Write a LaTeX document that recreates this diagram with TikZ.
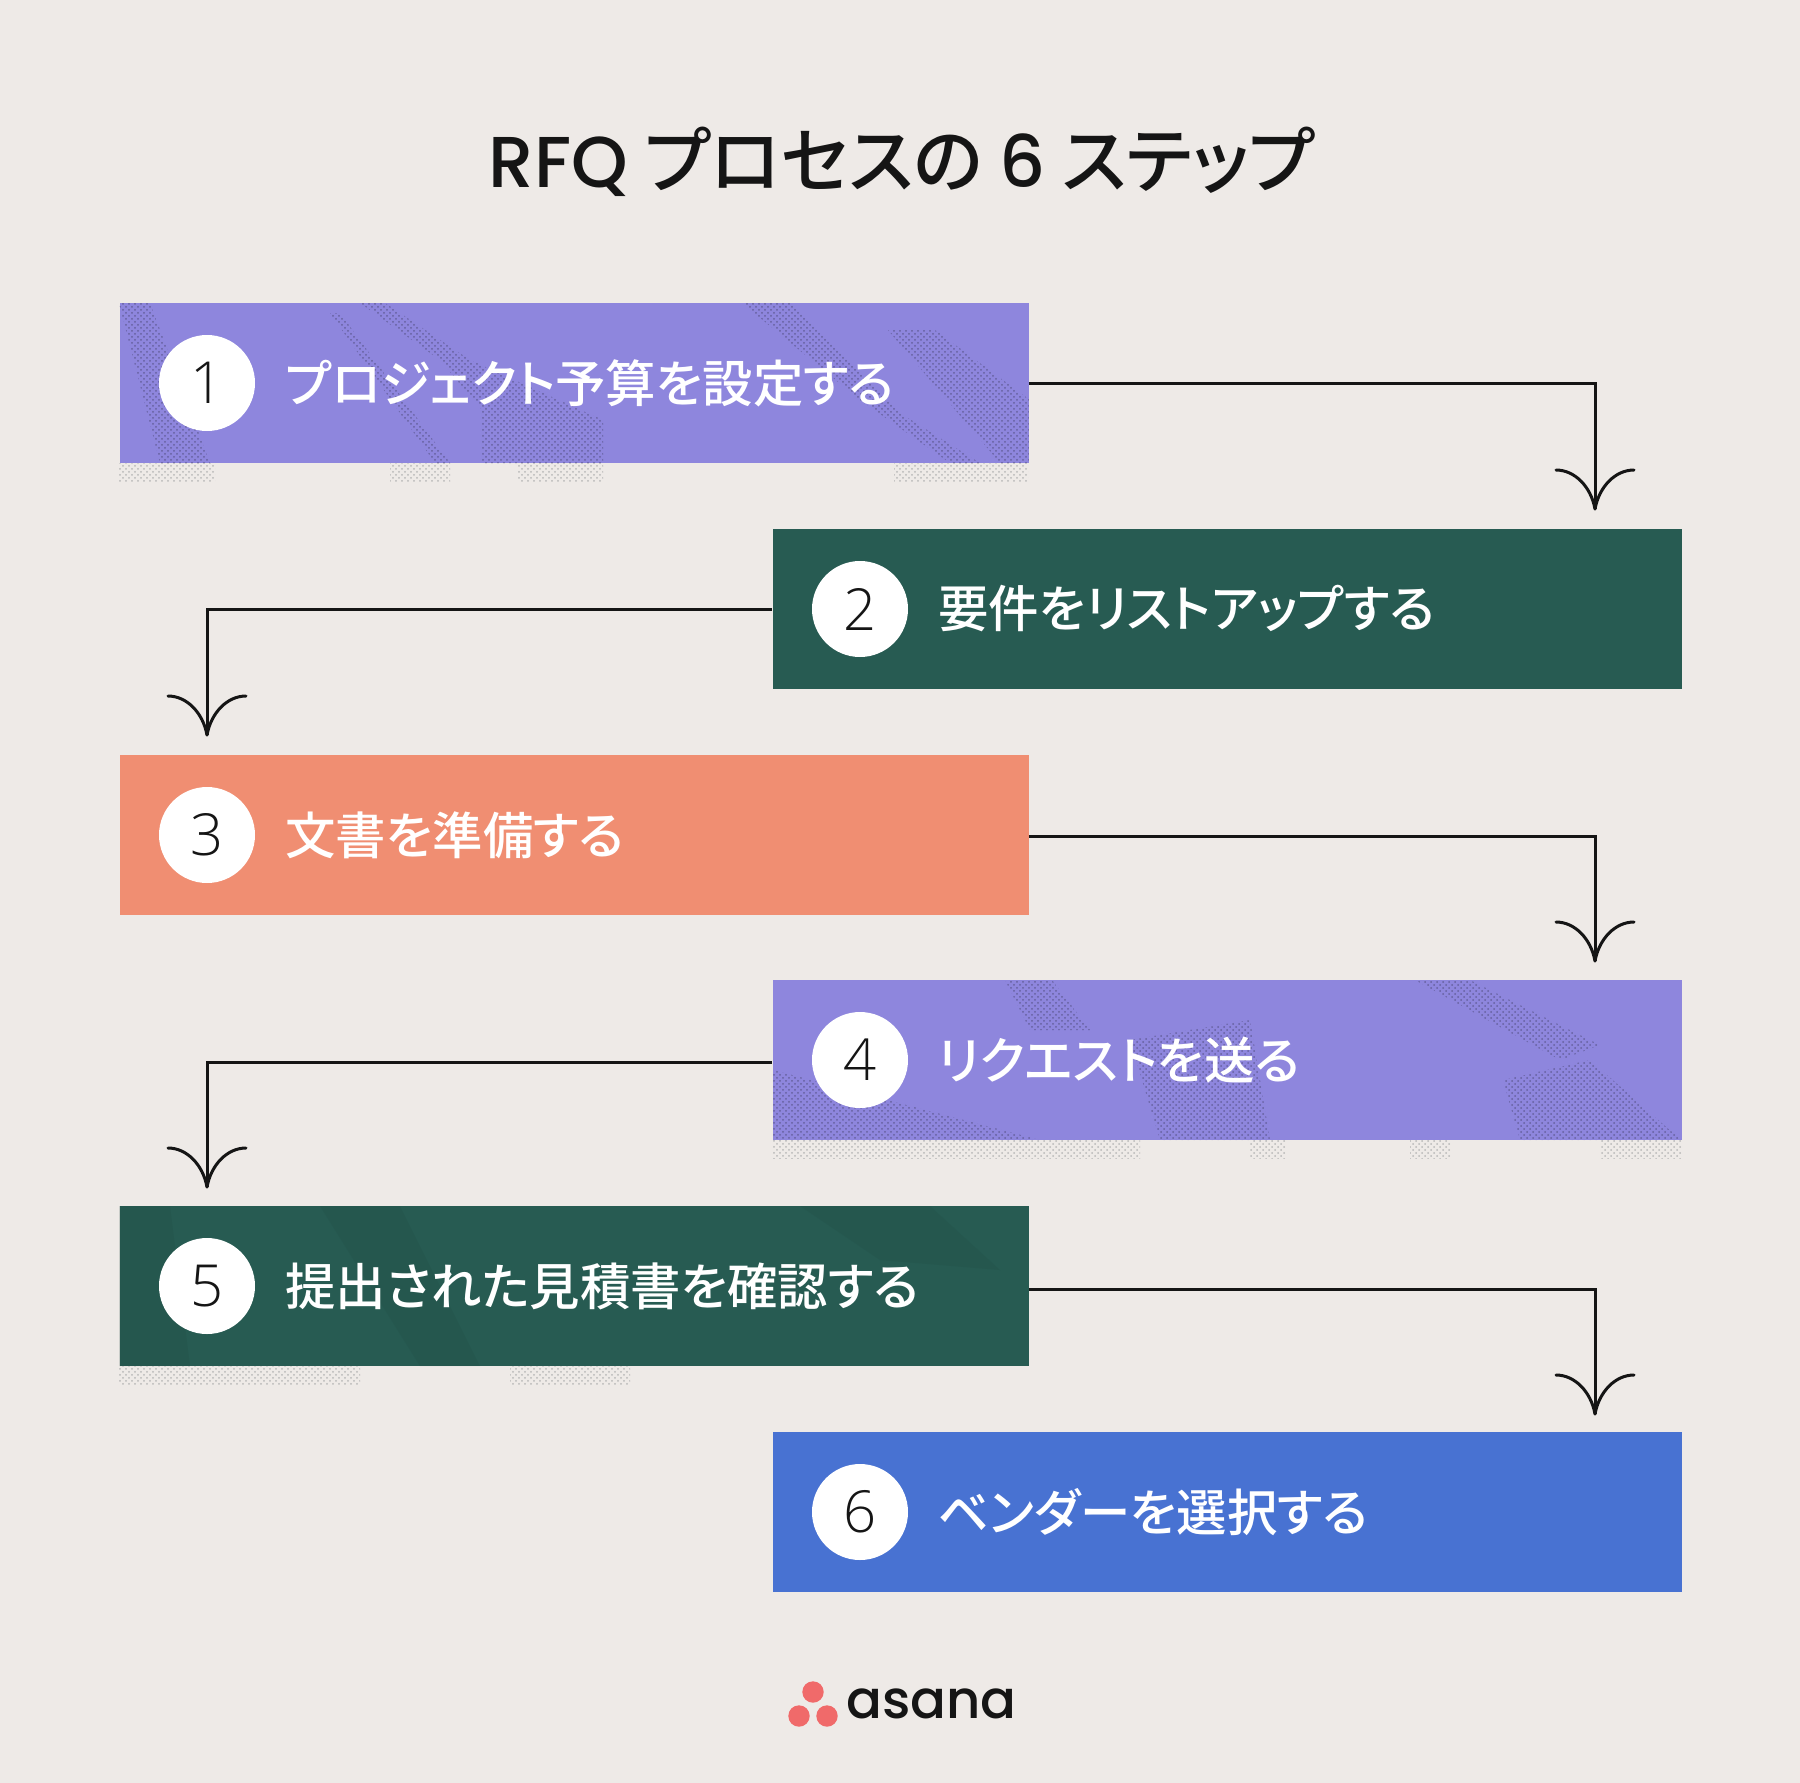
\documentclass[tikz,border=0pt]{standalone}
\usepackage{fontspec}
\usetikzlibrary{patterns}
\newfontfamily\titlefont[RawFeature=+palt]{Noto Sans CJK JP Medium}
\newfontfamily\labelfont[RawFeature=+palt]{Noto Sans CJK JP Medium}
\newfontfamily\latinfont{Poppins Medium}
\newfontfamily\numfont{Open Sans Light}
\newfontfamily\logofont{Poppins Medium}
\definecolor{paper}{HTML}{EEEAE7}
\definecolor{stepviolet}{HTML}{8E86DD}
\definecolor{stepgreen}{HTML}{275B52}
\definecolor{stepcoral}{HTML}{F08E72}
\definecolor{stepblue}{HTML}{4872D2}
\definecolor{logored}{HTML}{F06A6A}
\definecolor{ink}{HTML}{151515}
\tikzset{
    step-box/.style = {rectangle, minimum width=454.5pt, minimum height=80pt, inner sep=0pt},
    step-num/.style = {circle, fill=white, text=ink, minimum size=48pt, inner sep=0pt, font=\numfont\fontsize{29}{29}\selectfont},
    step-text/.style = {anchor=west, text=white, inner sep=0pt, font=\labelfont\fontsize{25.2}{30}\selectfont},
    logo-dot/.style = {circle, fill=logored, minimum size=10.7pt, inner sep=0pt},
    speckle/.style = {pattern=crosshatch dots, pattern color=black!28},
    violet-hatch/.style = {pattern=crosshatch dots, pattern color=stepviolet!72!black},
    green-hatch/.style = {fill=stepgreen!78!black, opacity=0.18},
    link/.style = {draw=ink, line width=1.5pt},
    barb/.pic = {
        \draw[link, line cap=round] (-39,-39) .. controls (-20,-39) and (-4,-22) .. (0,0);
        \draw[link, line cap=round] (39,-39) .. controls (20,-39) and (4,-22) .. (0,0);
    },
}

\begin{document}
\begin{tikzpicture}[x=0.5pt, y=-0.5pt]
\useasboundingbox (0,0) rectangle (1800,1783);
\fill[paper] (0,0) rectangle (1800,1783);

% title
\node [font=\titlefont\fontsize{36}{42}\selectfont, text=ink] (title) at (902,162) {{\latinfont RFQ} プロセスの {\latinfont 6} ステップ};

% speckled strips under the boxes
\fill[speckle] (119,463) rectangle (215,481);
\fill[speckle] (390,463) rectangle (450,481);
\fill[speckle] (518,463) rectangle (603,481);
\fill[speckle] (894,463) rectangle (1028,481);
\fill[speckle] (773,1140) rectangle (1140,1158);
\fill[speckle] (1250,1140) rectangle (1285,1158);
\fill[speckle] (1410,1140) rectangle (1450,1158);
\fill[speckle] (1600,1140) rectangle (1681,1158);
\fill[speckle] (119,1366) rectangle (360,1384);
\fill[speckle] (510,1366) rectangle (630,1384);

% boxes
\node [step-box, fill=stepviolet] (box-1) at (574,383) {};
\node [step-box, fill=stepgreen] (box-2) at (1227,609) {};
\node [step-box, fill=stepcoral] (box-3) at (574,835) {};
\node [step-box, fill=stepviolet] (box-4) at (1227,1060) {};
\node [step-box, fill=stepgreen] (box-5) at (574,1286) {};
\node [step-box, fill=stepblue] (box-6) at (1227,1512) {};

% worn print on the boxes
\begin{scope}
\clip (box-1.north west) rectangle (box-1.south east);
\fill[violet-hatch] (119,303) -- (150,303) -- (210,463) -- (160,463) -- cycle;
\fill[violet-hatch] (360,303) -- (385,303) -- (470,360) -- (603,420) -- (603,463) -- (482,463) -- (482,410) -- (440,360) -- cycle;
\fill[violet-hatch] (330,313) -- (340,313) -- (450,463) -- (435,463) -- cycle;
\fill[violet-hatch] (742,303) -- (790,303) -- (900,413) -- (980,463) -- (950,463) -- (860,400) -- cycle;
\fill[violet-hatch] (888,330) -- (935,330) -- (1030,400) -- (1030,463) -- (1000,463) -- cycle;
\end{scope}
\begin{scope}
\clip (box-4.north west) rectangle (box-4.south east);
\fill[violet-hatch] (773,1070) -- (830,1085) -- (1040,1140) -- (773,1140) -- cycle;
\fill[violet-hatch] (1005,980) -- (1052,980) -- (1090,1030) -- (1030,1030) -- cycle;
\fill[violet-hatch] (1415,980) -- (1470,980) -- (1600,1045) -- (1560,1060) -- cycle;
\fill[violet-hatch] (1503,1080) -- (1590,1060) -- (1681,1140) -- (1520,1140) -- cycle;
\fill[violet-hatch] (1130,1040) -- (1250,1020) -- (1270,1140) -- (1160,1140) -- cycle;
\end{scope}
\begin{scope}
\clip (box-5.north west) rectangle (box-5.south east);
\fill[green-hatch] (119,1206) -- (170,1206) -- (190,1366) -- (119,1366) -- cycle;
\fill[green-hatch] (320,1206) -- (400,1206) -- (480,1366) -- (420,1366) -- cycle;
\fill[green-hatch] (800,1206) -- (930,1206) -- (1000,1270) -- (880,1260) -- cycle;
\end{scope}

% numbers
\node [step-num] (num-1) at (207,383) {1};
\node [step-num] (num-2) at (860,609) {2};
\node [step-num] (num-3) at (207,835) {3};
\node [step-num] (num-4) at (860,1060) {4};
\node [step-num] (num-5) at (207,1286) {5};
\node [step-num] (num-6) at (860,1512) {6};

% labels
\node [step-text] (text-1) at (285,383) {プロジェクト予算を設定する};
\node [step-text] (text-2) at (938,609) {要件をリストアップする};
\node [step-text] (text-3) at (285,835) {文書を準備する};
\node [step-text] (text-4) at (938,1060) {リクエストを送る};
\node [step-text] (text-5) at (285,1286) {提出された見積書を確認する};
\node [step-text] (text-6) at (938,1512) {ベンダーを選択する};

% connectors
\coordinate (tip-1) at (1595,509);
\coordinate (tip-2) at (207,735);
\coordinate (tip-3) at (1595,961);
\coordinate (tip-4) at (207,1187);
\coordinate (tip-5) at (1595,1414);
\draw[link] (box-1.east) -| (tip-1);
\draw[link] (box-2.west) -| (tip-2);
\draw[link] ([yshift=-0.5pt]box-3.east) -| (tip-3);
\draw[link] ([yshift=-1pt]box-4.west) -| (tip-4);
\draw[link] ([yshift=-1.5pt]box-5.east) -| (tip-5);
\pic at (tip-1) {barb};
\pic at (tip-2) {barb};
\pic at (tip-3) {barb};
\pic at (tip-4) {barb};
\pic at (tip-5) {barb};

% logo
\node [logo-dot] (dot-top) at (813,1692) {};
\node [logo-dot] (dot-left) at (799,1716) {};
\node [logo-dot] (dot-right) at (827,1716) {};
\node [anchor=west, inner sep=0pt, text=ink, font=\logofont\fontsize{26.5}{30}\selectfont] (logo) at (846,1704) {asana};
\end{tikzpicture}
\end{document}
